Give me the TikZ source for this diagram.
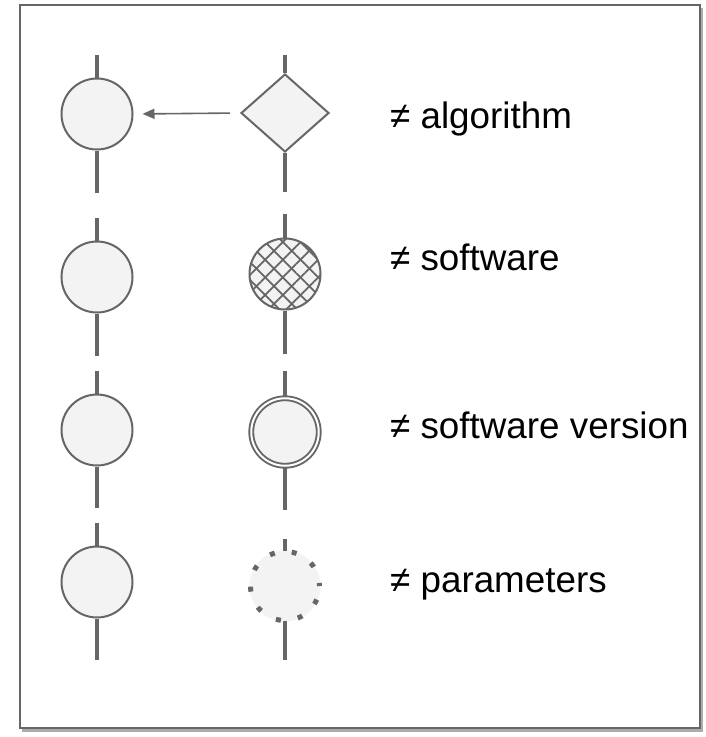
\documentclass[tikz,border=0pt]{standalone}
\usepackage{fontspec}
\setmainfont{Liberation Sans}
\usepackage{xcolor}
\usetikzlibrary{positioning,shapes.geometric,arrows.meta,patterns.meta}
\definecolor{linegray}{HTML}{666666}
\definecolor{fillgray}{HTML}{F3F3F3}

\begin{document}
\begin{tikzpicture}[x=1pt,y=-1pt,
    ele/.style={circle,draw=linegray,fill=fillgray,line width=2pt,minimum size=71pt,inner sep=0pt},
    seg/.style={draw=linegray,line width=3.6pt},
    lab/.style={anchor=base west,inner sep=0pt,font=\fontsize{36.8}{40}\selectfont},
    hatch/.style={postaction={pattern={Lines[angle=45,distance=12.5pt,line width=1.8pt]},pattern color=linegray},
                  postaction={pattern={Lines[angle=-45,distance=12.5pt,line width=1.8pt]},pattern color=linegray}}]
      \useasboundingbox (0,0) rectangle (706,737);
      % frame with shadow
      \fill[gray!65] (22,8) rectangle (703,732);
      \draw[linegray,line width=2.2pt,fill=white] (20,5) rectangle (700,728);

      % left column
      \node[ele] (a1) at (97,114) {};
      \node[ele] (a2) at (97,277) {};
      \node[ele] (a3) at (97,430) {};
      \node[ele] (a4) at (97,582) {};

      % right column
      \node[diamond,draw=linegray,fill=fillgray,line width=2pt,minimum width=88pt,minimum height=78pt,inner sep=0pt] (b1) at (285,113) {};
      \node[ele,hatch] (b2) at (285,274) {};
      \node[ele,line width=1.9pt,double=white,double distance=2pt,minimum size=67.5pt] (b3) at (285,432) {};
      \node[ele,draw=none] (b4) at (285,586) {};
      \draw[linegray,line width=5pt,dash pattern=on 5pt off 17.2pt,dash phase=2pt] (b4) circle[radius=34.5pt];

      % segment ends
      \coordinate (a1t) at (97,55);  \coordinate (a1b) at (97,193);
      \coordinate (a2t) at (97,218); \coordinate (a2b) at (97,356);
      \coordinate (a3t) at (97,371); \coordinate (a3b) at (97,508);
      \coordinate (a4t) at (97,523); \coordinate (a4b) at (97,660);
      \coordinate (b1t) at (285,55);  \coordinate (b1b) at (285,192);
      \coordinate (b2t) at (285,214); \coordinate (b2b) at (285,354);
      \coordinate (b3t) at (285,371); \coordinate (b3b) at (285,510);
      \coordinate (b4t) at (285,539); \coordinate (b4b) at (285,660);

      \draw[seg] (a1t) -- (a1.north); \draw[seg] (a1.south) -- (a1b);
      \draw[seg] (a2t) -- (a2.north); \draw[seg] (a2.south) -- (a2b);
      \draw[seg] (a3t) -- (a3.north); \draw[seg] (a3.south) -- (a3b);
      \draw[seg] (a4t) -- (a4.north); \draw[seg] (a4.south) -- (a4b);
      \draw[seg] (b1t) -- (b1.north); \draw[seg] (b1.south) -- (b1b);
      \draw[seg] (b2t) -- (b2.north); \draw[seg] (b2.south) -- (b2b);
      \draw[seg] (b3t) -- (b3.north); \draw[seg] (b3.south) -- (b3b);
      \draw[seg] (b4t) -- ([yshift=-1pt]b4.north); \draw[seg] ([yshift=2pt]b4.south) -- (b4b);

      \draw[-{Triangle[length=12pt,width=10pt]},linegray,line width=1.6pt,shorten <=10pt,shorten >=9pt] (b1.west) -- (a1.east);

      % labels
      \node[lab] (l1) at (390,128) {≠ algorithm};
      \node[lab] (l2) at (390,270) {≠ software};
      \node[lab] (l3) at (390,438) {≠ software version};
      \node[lab] (l4) at (390,592) {≠ parameters};
     \end{tikzpicture}
\end{document}
